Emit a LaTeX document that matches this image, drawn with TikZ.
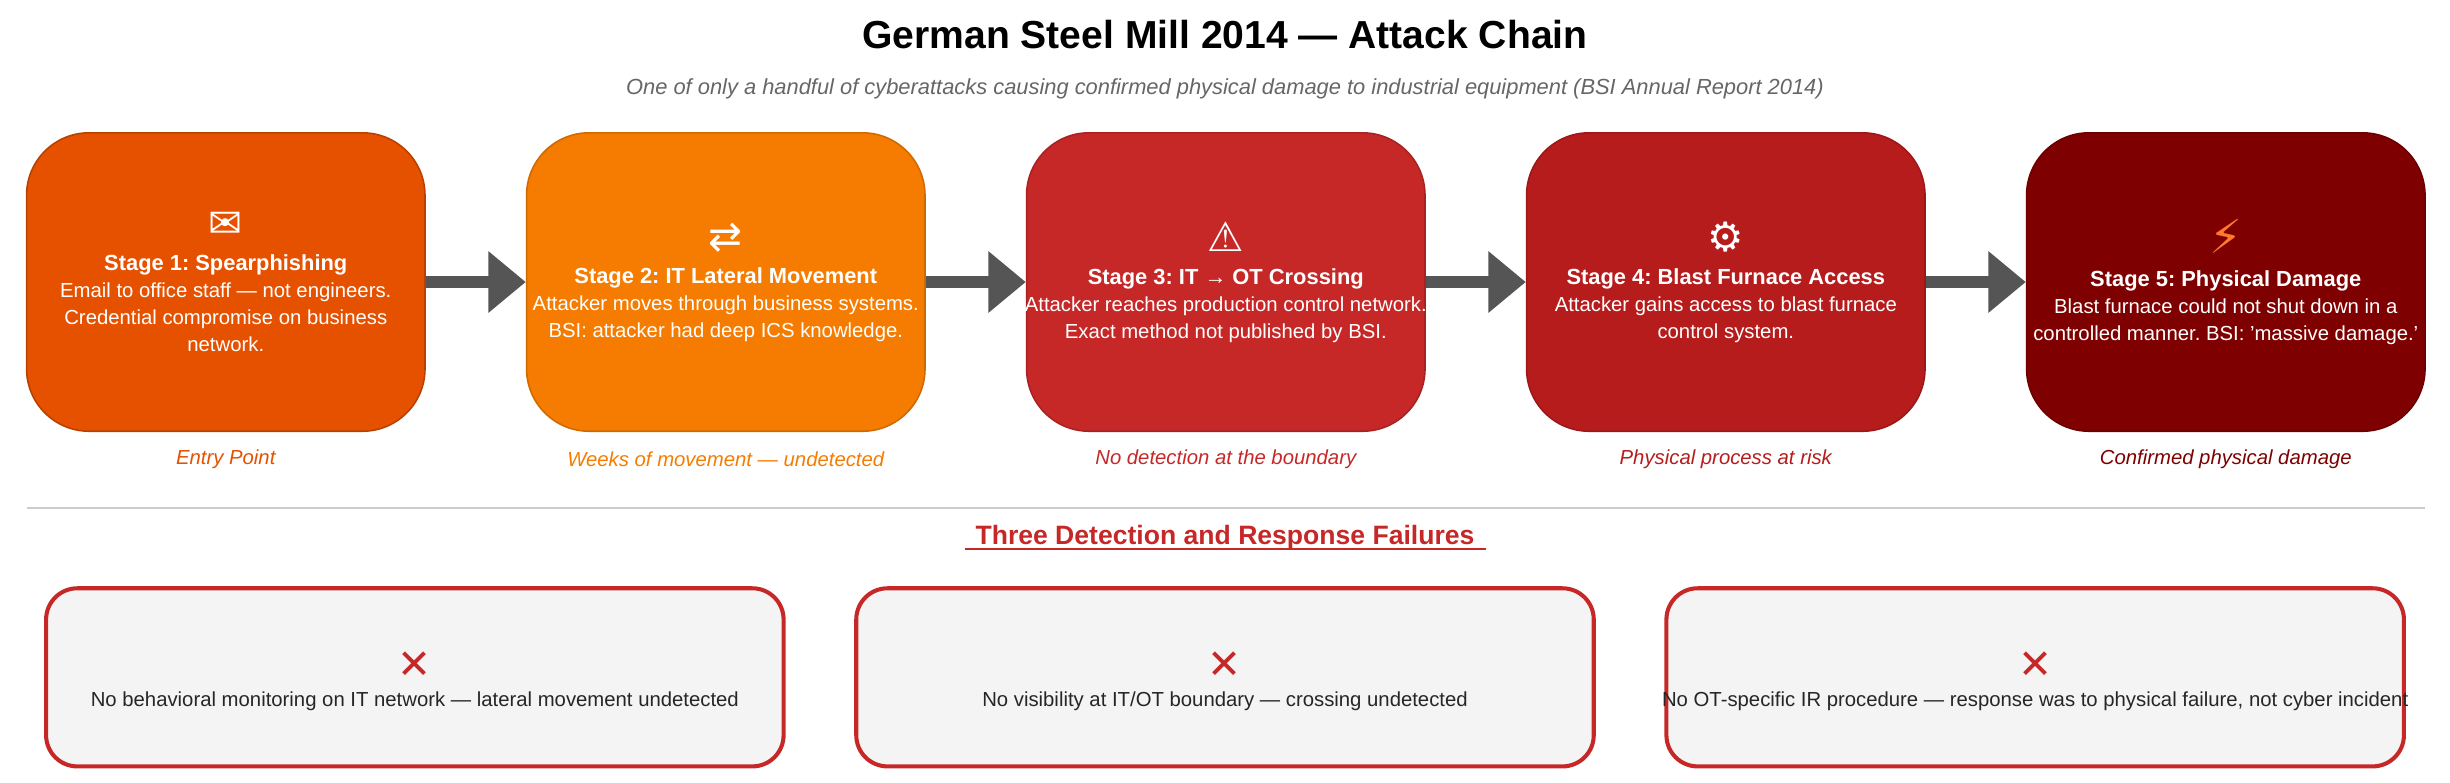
\documentclass[tikz,border=0pt]{standalone}
\usepackage{fontspec}
\setmainfont{Liberation Sans}
\newfontfamily\symfont{DejaVu Sans}
\usetikzlibrary{arrows.meta}
\definecolor{cA}{HTML}{E65100}
\definecolor{cB}{HTML}{F57C00}
\definecolor{cC}{HTML}{C62828}
\definecolor{cD}{HTML}{B71C1C}
\definecolor{cE}{HTML}{7F0000}
\definecolor{arrowgray}{HTML}{555555}
\definecolor{failfill}{HTML}{F4F4F4}
\definecolor{bolt}{HTML}{FF7A2E}
\frenchspacing
\begin{document}
\begin{tikzpicture}[x=0.5pt,y=-0.5pt]

\tikzstyle{stage}=[rectangle, rounded corners=20pt, minimum width=127.5pt, minimum height=95.5pt, draw=black!25, line width=0.5pt]
\tikzstyle{stagetext}=[text=white, align=center, font=\fontsize{6.5}{8.6}\selectfont]
\tikzstyle{caption}=[font=\fontsize{6.5}{8}\selectfont\itshape]
\tikzstyle{fail}=[rectangle, rounded corners=10pt, minimum width=236pt, minimum height=57pt, draw=cC, line width=1.3pt, fill=failfill]
\tikzstyle{connect}=[-{Triangle[length=12pt,width=19pt]}, line width=4pt, draw=arrowgray, fill=arrowgray]

\useasboundingbox (0,0) rectangle (1568,501);

\node (title) at (784,22) {\fontsize{12.5}{14}\selectfont\bfseries German Steel Mill 2014 — Attack Chain};
\node[text=black!60] (sub) at (784,57) {\fontsize{7}{9}\selectfont\itshape One of only a handful of cyberattacks causing confirmed physical damage to industrial equipment (BSI Annual Report 2014)};

\node[stage, fill=cA, draw=cA!80!black] (s1) at (144.5,180.5) {};
\node[stage, fill=cB, draw=cB!85!black] (s2) at (464.5,180.5) {};
\node[stage, fill=cC, draw=cC!85!black] (s3) at (784.5,180.5) {};
\node[stage, fill=cD, draw=cD!85!black] (s4) at (1104.5,180.5) {};
\node[stage, fill=cE, draw=cE!85!black] (s5) at (1424.5,180.5) {};

\node[stagetext] (t1) at (s1.center) {{\symfont\fontsize{13}{14}\selectfont ✉}\\[2pt]{\fontsize{7}{9}\selectfont\bfseries Stage 1: Spearphishing}\\Email to office staff — not engineers.\\Credential compromise on business\\network.};
\node[stagetext] (t2) at (s2.center) {{\symfont\fontsize{13}{14}\selectfont ⇄}\\[2pt]{\fontsize{7}{9}\selectfont\bfseries Stage 2: IT Lateral Movement}\\Attacker moves through business systems.\\BSI: attacker had deep ICS knowledge.};
\node[stagetext] (t3) at (s3.center) {{\symfont\fontsize{13}{14}\selectfont ⚠}\\[2pt]{\fontsize{7}{9}\selectfont\bfseries Stage 3: IT → OT Crossing}\\Attacker reaches production control network.\\Exact method not published by BSI.};
\node[stagetext] (t4) at (s4.center) {{\symfont\fontsize{13}{14}\selectfont ⚙}\\[2pt]{\fontsize{7}{9}\selectfont\bfseries Stage 4: Blast Furnace Access}\\Attacker gains access to blast furnace\\control system.};
\node[stagetext] (t5) at (s5.center) {{\symfont\fontsize{15}{14}\selectfont\color{bolt}⚡}\\[2pt]{\fontsize{7}{9}\selectfont\bfseries Stage 5: Physical Damage}\\Blast furnace could not shut down in a\\controlled manner. BSI: 'massive damage.'};

\path (s1) [connect] edge (s2);
\path (s2) [connect] edge (s3);
\path (s3) [connect] edge (s4);
\path (s4) [connect] edge (s5);

\node[caption, text=cA] (c1) at (144.5,294) {Entry Point};
\node[caption, text=cB] (c2) at (464.5,294) {Weeks of movement — undetected};
\node[caption, text=cC] (c3) at (784.5,294) {No detection at the boundary};
\node[caption, text=cD] (c4) at (1104.5,294) {Physical process at risk};
\node[caption, text=cE] (c5) at (1424.5,294) {Confirmed physical damage};

\draw[black!20, line width=0.6pt] (17,325) -- (1552,325);

\node[text=cC, font=\fontsize{8.5}{10}\selectfont\bfseries] (fhead) at (784,344) {Three Detection and Response Failures};
\draw[cC, line width=0.6pt] ([yshift=-1.5pt]fhead.base west) -- ([yshift=-1.5pt]fhead.base east);

\node[fail] (f1) at (265.5,433.5) {};
\node[fail] (f2) at (784,433.5) {};
\node[fail] (f3) at (1302.5,433.5) {};

\node[align=center, font=\fontsize{6.5}{9}\selectfont, text=black!85] (ft1) at (265.5,436) {{\symfont\fontsize{13}{14}\selectfont\color{cC}✕}\\No behavioral monitoring on IT network — lateral movement undetected};
\node[align=center, font=\fontsize{6.5}{9}\selectfont, text=black!85] (ft2) at (784,436) {{\symfont\fontsize{13}{14}\selectfont\color{cC}✕}\\No visibility at IT/OT boundary — crossing undetected};
\node[align=center, font=\fontsize{6.5}{9}\selectfont, text=black!85] (ft3) at (1302.5,436) {{\symfont\fontsize{13}{14}\selectfont\color{cC}✕}\\No OT-specific IR procedure — response was to physical failure, not cyber incident};

\end{tikzpicture}
\end{document}
